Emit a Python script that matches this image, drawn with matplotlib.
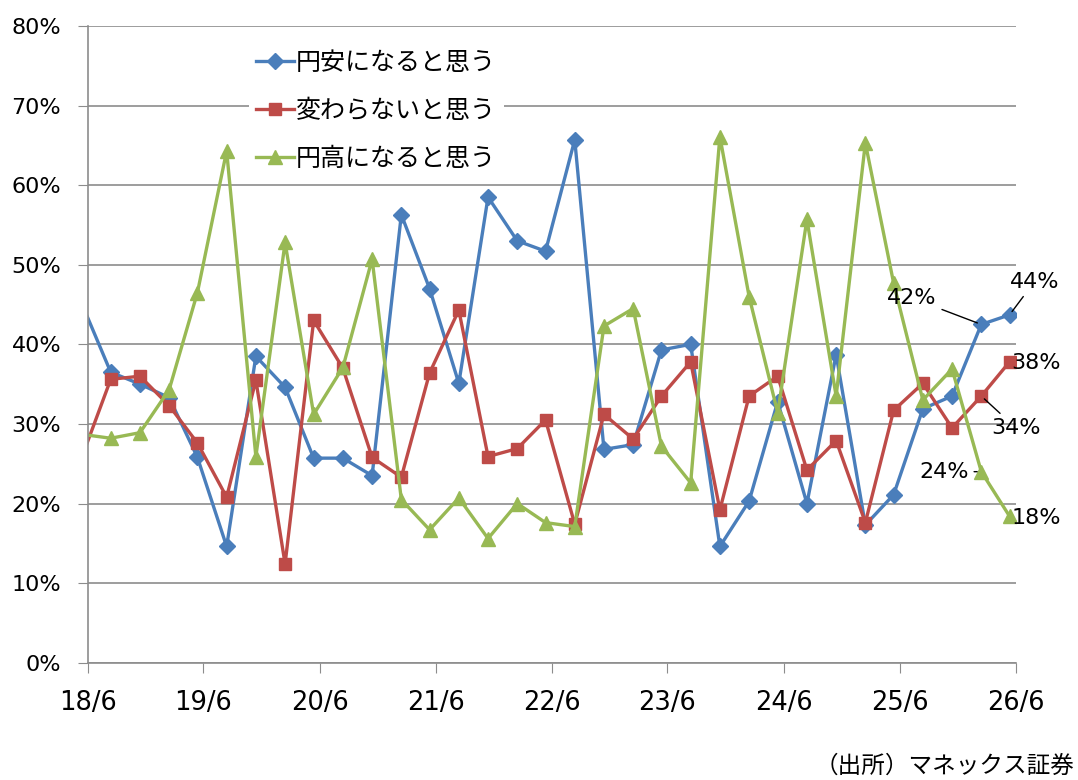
import matplotlib
matplotlib.use('Agg')
import matplotlib.pyplot as plt
import pandas as pd

plt.rcParams['font.family'] = ['DejaVu Sans', 'Noto Sans CJK JP']

# survey months (quarterly), first one sits just left of the axis
months = ['2018-05', '2018-08', '2018-11', '2019-02', '2019-05', '2019-08', '2019-11',
          '2020-02', '2020-05', '2020-08', '2020-11', '2021-02', '2021-05', '2021-08',
          '2021-11', '2022-02', '2022-05', '2022-08', '2022-11', '2023-02', '2023-05',
          '2023-08', '2023-11', '2024-02', '2024-05', '2024-08', '2024-11', '2025-02',
          '2025-05', '2025-08', '2025-11', '2026-02', '2026-05']

yen_weak = [45.2, 36.5, 35.0, 33.3, 25.8, 14.6, 38.5, 34.6, 25.7, 25.7, 23.5, 56.3,
            47.0, 35.1, 58.5, 53.0, 51.7, 65.7, 26.8, 27.4, 39.3, 40.0, 14.6, 20.3,
            32.8, 20.0, 38.7, 17.3, 21.1, 31.9, 33.5, 42.5, 43.7]
no_change = [25.7, 35.6, 36.0, 32.3, 27.6, 20.8, 35.5, 12.4, 43.0, 37.0, 25.8, 23.3,
             36.4, 44.3, 25.9, 26.9, 30.5, 17.4, 31.2, 28.1, 33.5, 37.8, 19.2, 33.5,
             36.0, 24.2, 27.9, 17.6, 31.7, 35.1, 29.5, 33.5, 37.8]
yen_strong = [28.7, 28.2, 28.9, 34.3, 46.5, 64.3, 25.9, 52.8, 31.2, 37.1, 50.7, 20.5,
              16.7, 20.7, 15.6, 20.0, 17.6, 17.1, 42.3, 44.5, 27.2, 22.6, 66.1, 46.0,
              31.4, 55.7, 33.5, 65.3, 47.7, 33.0, 36.9, 24.0, 18.4]

labels = ['円安になると思う', '変わらないと思う', '円高になると思う']
tick_years = ['2018', '2019', '2020', '2021', '2022', '2023', '2024', '2025', '2026']
tick_labels = ['18/6', '19/6', '20/6', '21/6', '22/6', '23/6', '24/6', '25/6', '26/6']

x = pd.to_datetime(months) + pd.Timedelta(days=12)
ticks = pd.to_datetime([y + '-06-01' for y in tick_years])

fig = plt.figure(figsize=(10.78, 7.8), dpi=100)
ax = fig.add_axes([0.0812, 0.1504, 0.8609, 0.8163])

# first survey is off the left edge: draw its line segment but not its marker
ev = slice(1, None)
ax.plot(x, yen_weak, color='#4A7EBB', lw=2.4, marker='D', ms=8.5, markevery=ev, label=labels[0])
ax.plot(x, no_change, color='#BE4B48', lw=2.4, marker='s', ms=8, markevery=ev, label=labels[1])
ax.plot(x, yen_strong, color='#98B954', lw=2.4, marker='^', ms=10.5, markevery=ev, label=labels[2])

ax.set_xlim(ticks[0], ticks[-1])
ax.set_ylim(0, 80)
ax.set_yticks(range(0, 81, 10))
ax.set_yticklabels([f'{v}%' for v in range(0, 81, 10)], fontsize=16)
ax.set_xticks(ticks)
ax.set_xticklabels(tick_labels, fontsize=18.5)
ax.grid(axis='y', color='#8c8c8c', lw=1.2)
ax.set_axisbelow(True)
for s in ['top', 'right']:
    ax.spines[s].set_visible(False)
for s in ['left', 'bottom']:
    ax.spines[s].set_color('#8c8c8c')
    ax.spines[s].set_linewidth(1.2)
ax.tick_params(axis='y', length=7, color='#8c8c8c', pad=12)
ax.tick_params(axis='x', length=7, color='#8c8c8c', pad=13)

leg = ax.legend(loc='upper left', bbox_to_anchor=(0.16, 0.992), fontsize=18,
                frameon=True, edgecolor='none', facecolor='white', framealpha=1,
                handlelength=1.5, handletextpad=0.1, labelspacing=0.95,
                borderpad=0.3, fancybox=False)

# data labels on the last points
def tag(series, i, text, dx, dy, leader):
    kw = dict(arrowstyle='-', color='black', lw=1, shrinkA=2, shrinkB=3) if leader else None
    ax.annotate(text, (x[i], series[i]), xytext=(dx, dy), textcoords='offset points',
                ha='center', va='center', fontsize=16, annotation_clip=False,
                arrowprops=kw)

tag(yen_weak, 32, '44%', 18, 24, True)
tag(yen_weak, 31, '42%', -50, 19, True)
tag(no_change, 32, '38%', 19, -1, False)
tag(no_change, 31, '34%', 25, -23, True)
tag(yen_strong, 31, '24%', -27, 0, True)
tag(yen_strong, 32, '18%', 19, -1, False)

fig.text(0.997, 0.018, '（出所）マネックス証券', ha='right', va='center', fontsize=17,
         family=['Noto Sans CJK JP', 'DejaVu Sans'])

fig.savefig('out.png', dpi=100)
